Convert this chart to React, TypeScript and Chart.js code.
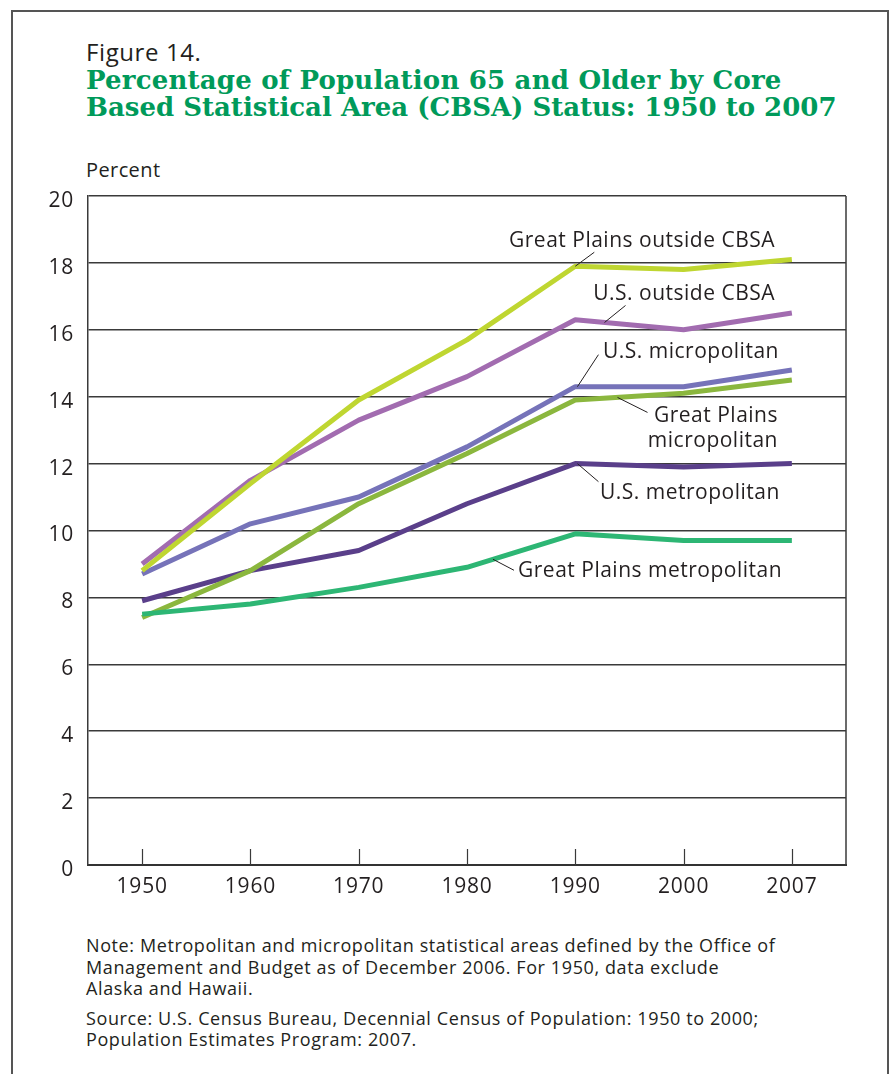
import { useEffect, useRef } from "react";
import { Chart, registerables } from "chart.js";

Chart.register(...registerables);

const years = ["1950", "1960", "1970", "1980", "1990", "2000", "2007"];
const gpOutside = [8.8, 11.4, 13.9, 15.7, 17.9, 17.8, 18.1];
const usOutside = [9.0, 11.5, 13.3, 14.6, 16.3, 16.0, 16.5];
const usMicro = [8.7, 10.2, 11.0, 12.5, 14.3, 14.3, 14.8];
const gpMicro = [7.4, 8.8, 10.8, 12.3, 13.9, 14.1, 14.5];
const usMetro = [7.9, 8.8, 9.4, 10.8, 12.0, 11.9, 12.0];
const gpMetro = [7.5, 7.8, 8.3, 8.9, 9.9, 9.7, 9.7];
const yMin = 0;
const yMax = 20;
const yStep = 2;

const CANVAS_TOP = 150;
const TEXT = "#231f20";
const FONT = '"Open Sans", "Noto Sans", sans-serif';

type Label = {
  lines: string[];
  align: CanvasTextAlign;
  x: number;
  y: number;
  series: number[];
  t: number;
  dx: number;
  dy: number;
};

const labels: Label[] = [
  { lines: ["Great Plains outside CBSA"], align: "right", x: 775, y: 247, series: gpOutside, t: 4, dx: 19, dy: -14 },
  { lines: ["U.S. outside CBSA"], align: "right", x: 775, y: 300, series: usOutside, t: 4.27, dx: 21, dy: -17 },
  { lines: ["U.S. micropolitan"], align: "left", x: 603, y: 358, series: usMicro, t: 4.02, dx: 21, dy: -32 },
  { lines: ["Great Plains", "micropolitan"], align: "right", x: 778, y: 422, series: gpMicro, t: 4.39, dx: 30, dy: 15 },
  { lines: ["U.S. metropolitan"], align: "left", x: 600, y: 499, series: usMetro, t: 4.02, dx: 21, dy: 18 },
  { lines: ["Great Plains metropolitan"], align: "left", x: 518, y: 577, series: gpMetro, t: 3.24, dx: 21, dy: 11 },
];

const spacingPlugin = {
  id: "spacing",
  beforeDraw(chart: any) {
    (chart.ctx as any).letterSpacing = "0.8px";
  },
};

const annotPlugin = {
  id: "annot",
  afterDraw(chart: any) {
    const ctx = chart.ctx as CanvasRenderingContext2D;
    const xs = chart.scales.x;
    const ys = chart.scales.y;
    const area = chart.chartArea;
    ctx.save();
    // right border of the plot box
    ctx.strokeStyle = "#3a3a3a";
    ctx.lineWidth = 1.5;
    ctx.beginPath();
    ctx.moveTo(area.right, area.top);
    ctx.lineTo(area.right, area.bottom);
    ctx.stroke();
    // inward tick marks on the x axis
    ctx.lineWidth = 1.2;
    for (let i = 0; i < years.length; i++) {
      const px = Math.round(xs.getPixelForTick(i)) + 0.5;
      ctx.beginPath();
      ctx.moveTo(px, area.bottom);
      ctx.lineTo(px, area.bottom - 16);
      ctx.stroke();
    }
    // labels and leader lines
    ctx.font = `21px ${FONT}`;
    (ctx as any).letterSpacing = "0.5px";
    ctx.fillStyle = TEXT;
    ctx.textBaseline = "alphabetic";
    for (const l of labels) {
      ctx.textAlign = l.align;
      l.lines.forEach((t, i) => ctx.fillText(t, l.x, l.y - CANVAS_TOP + i * 25));
      const i0 = Math.floor(l.t);
      const f = l.t - i0;
      const i1 = Math.min(i0 + 1, l.series.length - 1);
      const x0 = xs.getPixelForValue(i0);
      const x1 = xs.getPixelForValue(i1);
      const v = l.series[i0] + f * (l.series[i1] - l.series[i0]);
      const px = x0 + f * (x1 - x0);
      const py = ys.getPixelForValue(v);
      ctx.strokeStyle = TEXT;
      ctx.lineWidth = 1;
      ctx.beginPath();
      ctx.moveTo(px + l.dx, py + l.dy);
      ctx.lineTo(px, py);
      ctx.stroke();
    }
    ctx.restore();
  },
};

function ds(label: string, data: number[], color: string) {
  return {
    label,
    data,
    borderColor: color,
    backgroundColor: color,
    borderWidth: 5,
    pointRadius: 0,
    tension: 0,
    borderJoinStyle: "round" as const,
    borderCapStyle: "butt" as const,
  };
}

export default function App() {
  const ref = useRef<HTMLCanvasElement>(null);
  useEffect(() => {
    const chart = new Chart(ref.current!, {
      type: "line",
      data: {
        labels: years,
        datasets: [
          ds("Great Plains metropolitan", gpMetro, "#2db674"),
          ds("Great Plains micropolitan", gpMicro, "#8bb73e"),
          ds("U.S. metropolitan", usMetro, "#5a3f8a"),
          ds("Great Plains outside CBSA", gpOutside, "#bfd631"),
          ds("U.S. outside CBSA", usOutside, "#a26cb0"),
          ds("U.S. micropolitan", usMicro, "#7673b9"),
        ],
      },
      options: {
        responsive: false,
        devicePixelRatio: 1,
        animation: false,
        events: [],
        layout: { padding: { left: 0, right: 45, top: 196 - CANVAS_TOP, bottom: 0 } },
        plugins: { legend: { display: false }, tooltip: { enabled: false }, title: { display: false } },
        scales: {
          x: {
            type: "category",
            offset: true,
            afterFit: (s: any) => {
              s.height = 45;
            },
            grid: { display: false, drawOnChartArea: false, drawTicks: false },
            border: { display: true, color: "#333", width: 2 },
            ticks: { color: TEXT, font: { family: FONT, size: 21 }, padding: 9, maxRotation: 0 },
          },
          y: {
            min: yMin,
            max: yMax,
            afterFit: (s: any) => {
              s.width = 88;
            },
            grid: { color: "#3a3a3a", lineWidth: 1.5, drawTicks: false },
            border: { display: true, color: "#3a3a3a", width: 1.5 },
            ticks: { stepSize: yStep, color: TEXT, font: { family: FONT, size: 21 }, padding: 14, labelOffset: 5 },
          },
        },
      },
      plugins: [spacingPlugin, annotPlugin],
    });
    return () => chart.destroy();
  }, []);

  return (
    <div
      style={{
        position: "absolute",
        left: 0,
        top: 0,
        width: 891,
        height: 1074,
        overflow: "hidden",
        background: "#fff",
        fontFamily: FONT,
        color: TEXT,
      }}
    >
      <div
        style={{
          position: "absolute",
          left: 11,
          top: 10,
          width: 878,
          height: 1120,
          border: "2px solid #555",
          boxSizing: "border-box",
        }}
      />
      <div
        style={{
          position: "absolute",
          left: 86,
          top: 39,
          fontSize: 24,
          lineHeight: "25px",
          letterSpacing: "0.6px",
          whiteSpace: "nowrap",
        }}
      >
        Figure 14.
      </div>
      <div
        style={{
          position: "absolute",
          left: 86,
          top: 67,
          fontFamily: '"DejaVu Serif", serif',
          fontWeight: "bold",
          fontSize: 26,
          lineHeight: "27px",
          color: "#009a5a",
          whiteSpace: "nowrap",
        }}
      >
        <div style={{ letterSpacing: "0.2px" }}>Percentage of Population 65 and Older by Core</div>
        <div>Based Statistical Area (CBSA) Status: 1950 to 2007</div>
      </div>
      <div
        style={{
          position: "absolute",
          left: 86,
          top: 160,
          fontSize: 20,
          lineHeight: "20px",
          letterSpacing: "0.4px",
          whiteSpace: "nowrap",
        }}
      >
        Percent
      </div>
      <canvas
        ref={ref}
        width={891}
        height={760}
        style={{ position: "absolute", left: 0, top: CANVAS_TOP, width: 891, height: 760 }}
      />
      <div
        style={{
          position: "absolute",
          left: 86,
          top: 935,
          width: 760,
          fontSize: 18,
          lineHeight: "21.5px",
          letterSpacing: "0.6px",
          whiteSpace: "nowrap",
        }}
      >
        <div>Note: Metropolitan and micropolitan statistical areas defined by the Office of</div>
        <div>Management and Budget as of December 2006. For 1950, data exclude</div>
        <div>Alaska and Hawaii.</div>
        <div style={{ marginTop: 8 }}>Source: U.S. Census Bureau, Decennial Census of Population: 1950 to 2000;</div>
        <div>Population Estimates Program: 2007.</div>
      </div>
    </div>
  );
}
